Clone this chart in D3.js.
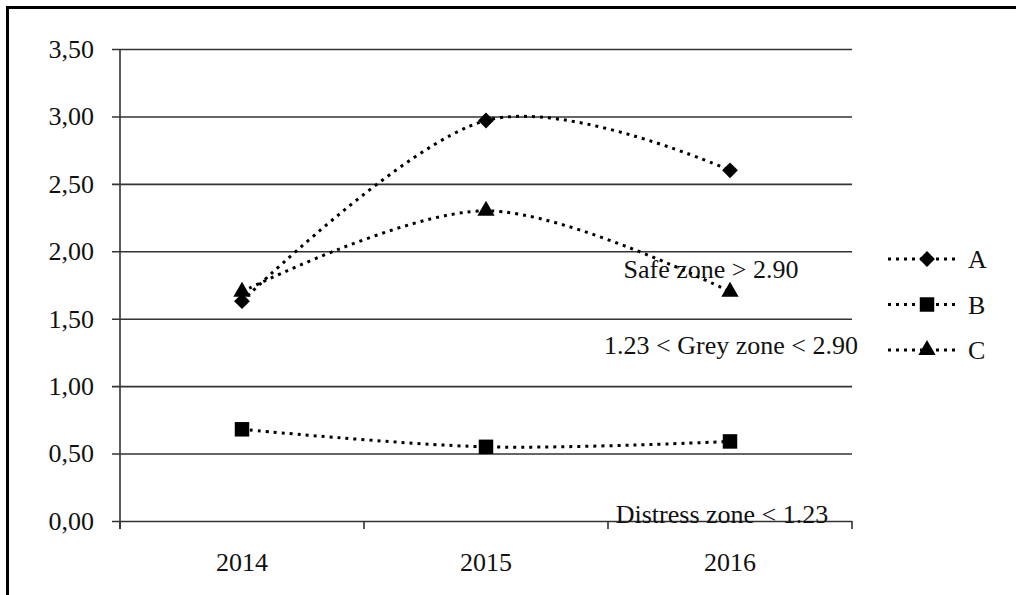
<!DOCTYPE html>
<html>
<head>
<meta charset="utf-8">
<script src="https://cdn.jsdelivr.net/npm/d3@7"></script>
<style>
  body { margin: 0; background: #fff; }
  svg text { font-family: "Liberation Serif", "DejaVu Serif", serif; }
</style>
</head>
<body>
<div class="container"></div>
<script>
// data
const years = ['2014', '2015', '2016'];
const seriesNames = ['A', 'B', 'C'];
const valuesA = [1.63, 2.97, 2.60];
const valuesB = [0.68, 0.55, 0.59];
const valuesC = [1.70, 2.30, 1.70];
const yTicks = [0, 0.5, 1, 1.5, 2, 2.5, 3, 3.5];
const zoneLabels = [
    { text: 'Safe zone > 2.90', value: 1.82 },
    { text: '1.23 < Grey zone < 2.90', value: 1.25 },
    { text: 'Distress zone < 1.23', value: 0.0 },
];

const w = 1016;
const h = 595;
const margin = { top: 49, left: 120, right: 164, bottom: 74 };
const font = '"Liberation Serif", "DejaVu Serif", serif';

const svg = d3.select('.container')
    .append('svg')
    .attr('width', w)
    .attr('height', h);

// outer frame, cut off at right and bottom like the original
svg.append('rect')
    .attr('x', 7.5)
    .attr('y', 7.5)
    .attr('width', w + 10)
    .attr('height', h + 10)
    .attr('fill', 'none')
    .attr('stroke', '#000')
    .attr('stroke-width', 3);

const xScale = d3.scaleBand().domain(years).range([margin.left, w - margin.right]);
const xEdge = d3.scaleLinear().domain([0, years.length]).range([margin.left, w - margin.right]);
const yScale = d3.scaleLinear().domain([0, 3.5]).range([h - margin.bottom, margin.top]);

// gridlines + y axis
const yAxis = d3.axisLeft(yScale)
    .tickValues(yTicks)
    .tickSize(w - margin.right - margin.left + 8)
    .tickPadding(18)
    .tickFormat(d => d3.format('.2f')(d).replace('.', ','));

const gy = svg.append('g')
    .attr('transform', `translate(${w - margin.right}, 0)`)
    .call(yAxis)
    .attr('font-family', font);
gy.select('.domain').remove();
gy.selectAll('.tick line').attr('stroke', '#333').attr('stroke-width', 1.6);
gy.selectAll('.tick text')
    .attr('font-size', 26)
    .attr('fill', '#111');

svg.append('line')
    .attr('x1', margin.left).attr('x2', margin.left)
    .attr('y1', yScale(3.5)).attr('y2', yScale(0) + 8)
    .attr('stroke', '#333').attr('stroke-width', 1.6);

// x axis tick marks at category edges
svg.append('g')
    .selectAll('line')
    .data(d3.range(years.length + 1))
    .join('line')
    .attr('x1', d => xEdge(d)).attr('x2', d => xEdge(d))
    .attr('y1', yScale(0)).attr('y2', yScale(0) + 8)
    .attr('stroke', '#333').attr('stroke-width', 1.6);

svg.append('g')
    .selectAll('text')
    .data(years)
    .join('text')
    .attr('x', d => xScale(d) + xScale.bandwidth() / 2)
    .attr('y', yScale(0) + 50)
    .attr('text-anchor', 'middle')
    .attr('font-family', font)
    .attr('font-size', 26)
    .attr('fill', '#111')
    .text(d => d);

// series
const series = [
    { name: 'A', values: valuesA, symbol: d3.symbolSquare, size: 125, rotate: 45 },
    { name: 'B', values: valuesB, symbol: d3.symbolSquare, size: 210, rotate: 0 },
    { name: 'C', values: valuesC, symbol: d3.symbolTriangle, size: 130, rotate: 0 },
];

const line = d3.line()
    .x((d, i) => xScale(years[i]) + xScale.bandwidth() / 2)
    .y(d => yScale(d))
    .curve(d3.curveCardinal.tension(0));

series.forEach(s => {
    svg.append('path')
        .attr('d', line(s.values))
        .attr('fill', 'none')
        .attr('stroke', '#000')
        .attr('stroke-width', 3)
        .attr('stroke-dasharray', '3,5');

    svg.append('g')
        .selectAll('path')
        .data(s.values)
        .join('path')
        .attr('transform', (d, i) => `translate(${xScale(years[i]) + xScale.bandwidth() / 2}, ${yScale(d)}) rotate(${s.rotate})`)
        .attr('d', d3.symbol().type(s.symbol).size(s.size))
        .attr('fill', '#000');
});

// zone annotations
svg.append('g')
    .selectAll('text')
    .data(zoneLabels)
    .join('text')
    .attr('x', (d, i) => [711, 731, 722][i])
    .attr('y', d => yScale(d.value) + 2)
    .attr('text-anchor', 'middle')
    .attr('font-family', font)
    .attr('font-size', 26)
    .attr('fill', '#111')
    .text(d => d.text);

// legend
const legend = svg.append('g').attr('transform', 'translate(888, 259)');
series.forEach((s, i) => {
    const g = legend.append('g').attr('transform', `translate(0, ${i * 45.5})`);
    g.append('line')
        .attr('x1', 0).attr('x2', 70)
        .attr('stroke', '#000')
        .attr('stroke-width', 3)
        .attr('stroke-dasharray', '3,5');
    g.append('path')
        .attr('transform', `translate(39, 0) rotate(${s.rotate})`)
        .attr('d', d3.symbol().type(s.symbol).size(s.size))
        .attr('fill', '#000');
    g.append('text')
        .attr('x', 80)
        .attr('y', 9)
        .attr('font-family', font)
        .attr('font-size', 26)
        .attr('fill', '#111')
        .text(s.name);
});
</script>
</body>
</html>
